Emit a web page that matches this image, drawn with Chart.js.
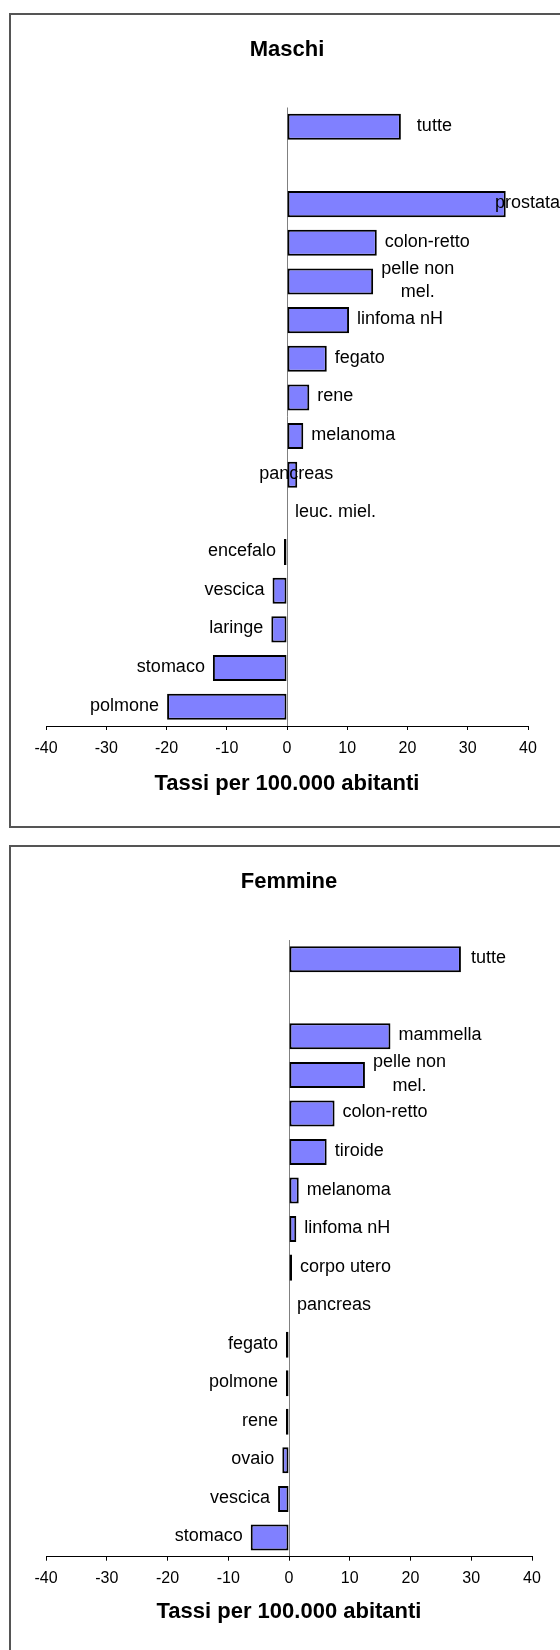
<!DOCTYPE html>
<html>
<head>
<meta charset="utf-8">
<script src="https://cdn.jsdelivr.net/npm/chart.js@4/dist/chart.umd.min.js"></script>
<style>
html,body{margin:0;padding:0;background:#fff;width:560px;height:1650px;overflow:hidden;}
.box{position:absolute;left:9px;width:620px;border:2px solid #555;box-sizing:border-box;}
.wrap{position:absolute;left:0;width:560px;}
</style>
</head>
<body>
<div class="box" style="top:13px;height:815px"></div>
<div class="box" style="top:845px;height:830px"></div>
<div class="wrap" style="top:0;height:840px"><canvas id="c1"></canvas></div>
<div class="wrap" style="top:840px;height:810px"><canvas id="c2"></canvas></div>
<script>
// ---- data ----
const maleTitle = 'Maschi';
const femaleTitle = 'Femmine';
const axisTitle = 'Tassi per 100.000 abitanti';

const maleCategories = ['tutte', '', 'prostata', 'colon-retto', ['pelle non', 'mel.'], 'linfoma nH',
  'fegato', 'rene', 'melanoma', 'pancreas', 'leuc. miel.', 'encefalo', 'vescica', 'laringe',
  'stomaco', 'polmone'];
const maleValues = [18.9, null, 36.3, 14.9, 14.3, 10.3, 6.6, 3.7, 2.7, 1.7, 0, -0.5, -2.4, -2.6, -12.3, -19.9];

const femaleCategories = ['tutte', '', 'mammella', ['pelle non', 'mel.'], 'colon-retto', 'tiroide',
  'melanoma', 'linfoma nH', 'corpo utero', 'pancreas', 'fegato', 'polmone', 'rene', 'ovaio',
  'vescica', 'stomaco'];
const femaleValues = [28.3, null, 16.7, 12.5, 7.5, 6.2, 1.6, 1.2, 0.5, 0, -0.5, -0.5, -0.5, -1.1, -1.8, -6.3];

const xTicksMin = -40, xTicksMax = 40, xTicksStep = 10;

// ---- drawing ----
const F = '"Liberation Sans", Arial, Helvetica, sans-serif';

const labelPlugin = {
  id: 'barLabels',
  afterDatasetsDraw(chart, args, o) {
    const ctx = chart.ctx;
    const meta = chart.getDatasetMeta(0);
    const labels = chart.data.labels;
    const vals = chart.data.datasets[0].data;
    ctx.save();
    ctx.font = '18px ' + F;
    ctx.fillStyle = '#000';
    ctx.textBaseline = 'alphabetic';
    ctx.textAlign = 'center';
    const lh = 23.3;
    meta.data.forEach((bar, i) => {
      const v = vals[i];
      if (v === null || v === undefined) return;
      const lines = [].concat(labels[i]);
      if (!lines[0]) return;
      const nudge = (o.nudge && o.nudge[i]) || 0;
      const w = Math.max(...lines.map(l => ctx.measureText(l).width));
      let left;
      if (v >= 0) {
        left = Math.max(bar.x, bar.base) + 8 + nudge;
        if (left + w > chart.width) left = chart.width - w;
      } else {
        left = Math.min(bar.x, bar.base) - 8 - w + nudge;
      }
      const y0 = bar.y + 4 - (lines.length - 1) * lh / 2;
      lines.forEach((l, k) => ctx.fillText(l, left + w / 2, y0 + k * lh));
    });
    ctx.restore();
  }
};

function makeChart(id, cats, vals, title, opt) {
  return new Chart(document.getElementById(id), {
    type: 'bar',
    data: {
      labels: cats,
      datasets: [{
        data: vals,
        backgroundColor: '#8080FF',
        borderColor: '#000',
        borderWidth: c => (c.raw === 0 ? 0 : 2),
        borderSkipped: false,
        barPercentage: 0.675,
        categoryPercentage: 1
      }]
    },
    options: {
      indexAxis: 'y',
      responsive: true,
      maintainAspectRatio: false,
      animation: false,
      layout: { padding: { left: 46, right: opt.right, top: 0, bottom: 0 } },
      plugins: {
        legend: { display: false },
        tooltip: { enabled: false },
        title: {
          display: true, text: title, color: '#000',
          font: { family: F, size: 22, weight: 'bold' },
          padding: { top: opt.tTop, bottom: opt.tBot }
        },
        barLabels: { nudge: opt.nudge }
      },
      scales: {
        x: {
          min: xTicksMin, max: xTicksMax,
          ticks: { stepSize: xTicksStep, color: '#000', font: { family: F, size: 16 }, padding: opt.tickPad, maxRotation: 0 },
          grid: {
            color: c => (c.tick && c.tick.value === 0 ? '#808080' : 'rgba(0,0,0,0)'),
            tickColor: '#000', tickLength: 4, lineWidth: 1
          },
          border: { color: '#000', width: 1 },
          title: {
            display: true, text: axisTitle, color: '#000',
            font: { family: F, size: 22, weight: 'bold' },
            padding: { top: 0, bottom: opt.axBot }
          },
          afterFit: s => { s.height = opt.axH; }
        },
        y: { display: false }
      }
    },
    plugins: [labelPlugin]
  });
}

makeChart('c1', maleCategories, maleValues, maleTitle,
  { right: 32, tTop: 36.5, tBot: 44.6, axH: 114, axBot: 42.8, tickPad: 9, nudge: { 0: 8, 9: -46 } });
makeChart('c2', femaleCategories, femaleValues, femaleTitle,
  { right: 28, tTop: 28.5, tBot: 45.1, axH: 93.3, axBot: 24.4, tickPad: 8, nudge: { 0: 2 } });
</script>
</body>
</html>
